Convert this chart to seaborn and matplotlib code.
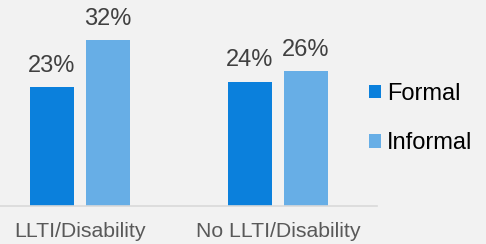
import numpy as np
import pandas as pd
import matplotlib
matplotlib.use("Agg")
import matplotlib.pyplot as plt
import seaborn as sns

# === Data ===
groups = ["LLTI/Disability", "No LLTI/Disability"]
care_types = ["Formal", "Informal"]
formal_pct = [23, 24]
informal_pct = [32, 26]

# === Colors ===
palette = {"Formal": "#0b80dc", "Informal": "#67aee6"}
bg = "#f2f2f2"

df = pd.DataFrame({
    "group": groups * 2,
    "type": ["Formal"] * len(groups) + ["Informal"] * len(groups),
    "value": formal_pct + informal_pct,
})

sns.set_theme(style="white")
plt.rcParams["font.family"] = ["Liberation Sans", "DejaVu Sans"]

W, H = 486, 244
fig = plt.figure(figsize=(W / 100, H / 100), dpi=100, facecolor=bg)
ax = fig.add_axes([0, (H - 206) / H, 377 / W, 206 / H], facecolor=bg)

sns.barplot(data=df, x="group", y="value", hue="type", order=groups,
            hue_order=care_types, palette=palette, width=0.566, gap=0.215,
            saturation=1, linewidth=0, ax=ax, legend=True)

for cont in ax.containers:
    ax.bar_label(cont, fmt="%d%%", padding=7.5, fontsize=17, color="#404040")

ax.set_ylim(0, 39.8)
ax.set_xlim(-0.404, 1.5)
ax.set_xlabel("")
ax.set_ylabel("")
ax.set_yticks([])
ax.tick_params(axis="x", length=0, pad=11.5, labelsize=15.3, labelcolor="#595959")
for side in ["top", "right", "left"]:
    ax.spines[side].set_visible(False)
ax.spines["bottom"].set_color("#d9d9d9")
ax.spines["bottom"].set_linewidth(1.2)

handles, labels = ax.get_legend_handles_labels()
ax.legend_.remove()
leg = fig.legend(handles, labels, loc="center left",
                 bbox_to_anchor=(369 / W, (H - 118.5) / H),
                 frameon=False, fontsize=17, handlelength=0.52, handleheight=0.52,
                 handletextpad=0.25, labelspacing=1.15, borderpad=0, borderaxespad=0)
for t in leg.get_texts():
    t.set_color("#000000")

fig.savefig("out.png", dpi=100, facecolor=bg)
